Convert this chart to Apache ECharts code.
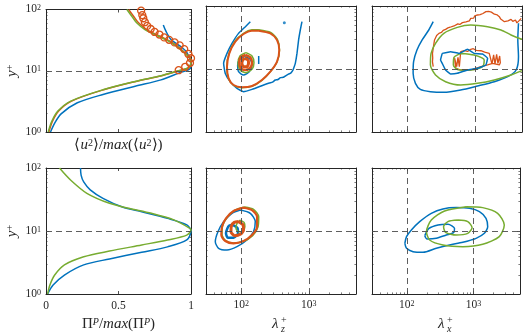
<!DOCTYPE html>
<html><head><meta charset="utf-8">
<script src="https://cdn.jsdelivr.net/npm/echarts@6/dist/echarts.min.js"></script>
<style>html,body{margin:0;padding:0;background:#fff}#c{width:523px;height:333px}</style>
</head><body><div id="c"></div>
<script>
// ---------- tick labels ----------
const yTickValues = [1, 10, 100];
const lambdaTickValues = [100, 1000];
const linTickValues = [0, 0.5, 1];
const refYPlus = 10;
const refLambda = [100, 1000];

// ---------- panel (a): <u^2>/max profiles  [value, y+] ----------
const u2Blue = [[0.031,1],[0.06,1.4],[0.104,1.98],[0.216,3.0],[0.393,4.1],[0.615,5.6],[0.793,7.1],[0.927,9.4],[0.982,10.3],[1.0,12.0],[0.995,14.8],[0.971,20.0],[0.938,24.0],[0.905,27.1],[0.86,32.6],[0.827,44.3],[0.809,56]];
const u2Green = [[0.015,1],[0.04,1.5],[0.082,2.2],[0.171,3.2],[0.393,4.9],[0.615,6.7],[0.793,8.3],[0.905,9.9],[0.97,10.9],[0.995,12.5],[1.0,14.8],[0.949,20],[0.86,29],[0.682,47],[0.627,60],[0.593,77],[0.558,100]];
const u2Orange = [[0.02,1],[0.045,1.5],[0.087,2.2],[0.176,3.2],[0.398,4.9],[0.62,6.7],[0.798,8.3],[0.91,9.9],[0.975,10.9],[1.0,12.5],[1.0,15],[0.955,20],[0.87,29],[0.695,47],[0.64,60],[0.605,77],[0.57,100]];
const u2Circles = [[0.656,95.7],[0.664,81],[0.671,72],[0.682,62],[0.698,54],[0.722,48],[0.749,43],[0.782,39],[0.815,35],[0.849,32],[0.887,29],[0.922,26],[0.953,22.6],[0.982,18.8],[1.0,16],[0.993,13.4],[0.96,11.6],[0.915,10.2]];

// ---------- panel (d): Pi^P/max profiles ----------
const piBlue = [[0.011,1],[0.049,1.39],[0.127,2.0],[0.26,2.9],[0.438,3.6],[0.66,4.6],[0.838,5.6],[0.971,7.2],[1.0,10],[0.971,12.5],[0.838,15.9],[0.66,20.2],[0.527,24],[0.393,33],[0.305,45],[0.26,60],[0.242,77],[0.238,100]];
const piGreen = [[0.011,1],[0.027,1.39],[0.06,2.0],[0.127,2.9],[0.26,3.9],[0.438,4.8],[0.66,6.0],[0.838,7.2],[0.971,8.6],[1.0,10.4],[0.993,11],[0.882,15],[0.727,19.1],[0.571,22.9],[0.438,27.5],[0.282,39.7],[0.171,64],[0.093,100]];

// ---------- panel (b): contours in (lambda_z+, y+) ----------
const bBlueOuter = [[136,56.4],[115,47],[91,36.8],[72.8,25.5],[61.4,17.7],[54.7,12.3],[57.9,8.5],[68.7,6.3],[86.3,4.93],[108,4.37],[144,4.75],[214,5.57],[260,6.0],[290,6.2],[319,6.69],[350,6.8],[380,7.3],[420,7.4],[449,7.74],[500,8.3],[540,8.6],[576,9.41],[600,10.5],[631,12.3],[668,17.7],[706,28.9],[748,41.6],[792,56.4]];
const bBlueDot = [[434,54.4]];
const bBlueInner = [[112,15.7],[136,14.2],[144,11.6],[131,9.07],[108,8.03],[91.2,9.07],[88.3,11.6],[94.4,14.2],[112,15.7]];
const bBlueTick = [[181,16.1],[181,12.0]];
const bGreenOuter = [[181,42],[272,38],[342,29.5],[368,20],[340,13],[269,9.0],[202,6.6],[144,5.3],[102,5.05],[76.9,5.5],[64.8,7.0],[61,10.9],[66,17.9],[81,27.8],[108,36.8],[144,41.8],[181,42]];
const bGreenInner = [[117,18.2],[144,16.1],[154,12.6],[144,9.88],[117,8.75],[95.5,9.64],[89.3,12.3],[95.5,16.1],[117,18.2]];
const bOrangeOuter = [[181,40.6],[269,36.8],[338,28.9],[365,20.0],[338,13.1],[269,9.07],[202,6.69],[144,5.37],[102,5.12],[76.9,5.57],[64.8,7.11],[61.4,10.9],[66.4,17.7],[81.5,27.2],[108,35.9],[144,40.6],[181,40.6]];
const bOrangeInner = [[115,16.7],[136,15.3],[144,12.6],[136,10.5],[115,9.64],[97.8,10.4],[93.4,12.6],[97.8,15.3],[115,16.7]];
const bOrangeCore = [[112,14.8],[126,13.9],[128,12.3],[121,10.9],[108,10.9],[102,12.3],[105,13.9],[112,14.8]];

// ---------- panel (c): contours in (lambda_x+, y+) ----------
const cBlueOuter = [[242,56.4],[208,41.6],[166,28.9],[139,20.0],[124,13.1],[122,8.53],[132,5.92],[156,4.75],[220,4.37],[348,4.26],[618,4.64],[1096,5.37],[1945,6.29],[3076,7.56],[4093,9.64],[4436,15.7],[4335,28.9],[4436,53.1]];
const cBlueInner = [[329,17.7],[438,18.8],[584,17.7],[778,20.5],[977,17.7],[1301,17.3],[1545,14.8],[1460,11.6],[1096,10.3],[778,9.64],[551,8.53],[438,8.33],[369,9.64],[329,12.3],[311,13.9],[329,17.7]];
const cGreenOuter = [[4980,29.6],[3443,34.7],[2443,41.6],[1545,47],[871,49.9],[551,45.8],[348,36.8],[262,25.5],[225,17.7],[220,11.6],[262,8.03],[369,6.29],[618,5.57],[1096,5.92],[1945,6.69],[3443,8.03],[4980,9.41]];
const cGreenInner = [[618,17.7],[977,16.7],[1377,13.9],[1301,10.9],[871,9.64],[584,9.64],[481,11.6],[492,15.3],[618,17.7]];
const cOrangeOuter = [[242,10.9],[236,13],[238,15],[236,17.7],[240,20],[246,24],[253,28.9],[262,31],[272,34],[294,36.8],[320,38],[340,41],[369,42.6],[400,45],[430,46],[460,49],[492,48.2],[520,50],[560,52],[600,51],[655,54.4],[700,57],[740,56],[790,60],[830,58],[871,63.7],[920,66],[960,64],[1000,70],[1050,68],[1096,72],[1150,74],[1200,73],[1260,78],[1320,76],[1380,80],[1460,81.3],[1520,78],[1600,82],[1680,77],[1760,80],[1837,78.4],[1950,74],[2050,70],[2150,72],[2307,67.7],[2420,62],[2550,58],[2742,56.4],[2900,60],[3100,58],[3300,62],[3443,61.4],[3650,57],[3800,55],[4000,60],[4200,54],[4335,54.4],[4500,58],[4700,62],[4864,63.7]];
const cOrangeInner = [[520,10.3],[502,14.8],[539,10.9],[563,15.3],[590,10.9],[618,18.8],[700,19.5],[780,19],[871,20.5],[950,21],[1050,19.8],[1230,19.5],[1400,18.5],[1637,17.7],[1734,16.7],[1795,12.0],[1900,16.7],[1990,12.0],[2105,17.1],[2203,12.3],[2333,16.1],[2388,12.6],[2307,11.6],[1837,12.3],[1545,11.6],[1230,10.9],[871,9.64],[618,9.64],[520,10.3]];

// ---------- panel (e): contours in (lambda_z+, y+) ----------
const eBlueOuter = [[96.7,21.5],[136,19.1],[161,14.1],[152,9.76],[121,7.2],[86.3,5.64],[61.4,4.99],[46.1,5.31],[41.2,6.77],[45.1,9.76],[54.7,14.1],[72.8,19.1],[96.7,21.5]];
const eBlueInner = [[74.5,12.5],[88.3,11.0],[89.3,9.18],[76.9,7.84],[63.4,7.84],[59.3,9.18],[62.1,11.0],[66.4,12.2],[74.5,12.5]];
const eGreenOuter = [[112,24.0],[152,22.1],[181,16.9],[177,11.7],[147,8.43],[108,6.86],[76.9,6.45],[57.9,7.11],[51.8,8.85],[52.8,12.0],[61.4,16.3],[79.6,21.3],[112,24.0]];
const eGreenInner = [[96.7,14.9],[110,13.7],[113,11.7],[105,10],[91.2,9.76],[83.4,11.0],[86.3,13.2],[96.7,14.9]];
const eOrangeOuter = [[108,23.5],[144,21.5],[171,16.9],[171,11.7],[144,8.64],[108,6.94],[76.9,6.37],[57.9,6.94],[50.6,8.64],[51.8,11.7],[59.3,15.9],[76.9,20.8],[108,23.5]];
const eOrangeInner = [[91.2,14.1],[106,12.5],[108,10.4],[96.7,8.85],[79.6,8.43],[70.3,9.76],[71.1,12.0],[78.7,13.7],[91.2,14.1]];

// ---------- panel (f): contours in (lambda_x+, y+) ----------
const fBlueOuter = [[93.4,6.37],[98.9,8.13],[117,10.4],[156,14.1],[233,19.1],[348,22.4],[551,23.5],[871,22.9],[1230,20.3],[1545,15.9],[1637,11.7],[1460,9.18],[1096,7.65],[693,6.61],[438,6.0],[277,5.31],[175,4.58],[124,4.70],[98.9,5.31],[93.4,6.37]];
const fBlueInner = [[186,8.43],[215,11.0],[294,12.5],[414,12.8],[520,11.0],[502,9.41],[391,8.64],[277,7.65],[201,7.46],[186,8.43]];
const fGreenOuter = [[778,24.3],[1377,23.5],[2307,19.1],[2904,12.5],[2443,8.13],[1377,6.14],[693,5.64],[348,6.0],[220,7.2],[197,9.76],[233,14.9],[369,20.8],[778,24.3]];
const fGreenInner = [[584,14.9],[822,14.1],[955,11.3],[822,9.18],[551,8.64],[382,9.52],[356,11.7],[414,14.1],[584,14.9]];

// ---------- styling ----------
const FONT = 'Liberation Serif';
const DARK = '#262626';
const BLUE = '#0072BD', ORANGE = '#D95319', GREEN = '#77AC30';

const tickRich = {
  n: {fontFamily: FONT, fontSize: 11.5, color: DARK, lineHeight: 11, padding: [3,0,0,0], verticalAlign: 'bottom'},
  s: {fontFamily: FONT, fontSize: 8, color: DARK, lineHeight: 8, verticalAlign: 'top'}
};
const nameRich = {
  m: {fontFamily: FONT, fontSize: 15, color: DARK, lineHeight: 15, padding: [4,0,0,0], verticalAlign: 'bottom'},
  i: {fontFamily: FONT, fontSize: 15, fontStyle: 'italic', color: DARK, lineHeight: 15, padding: [4,0,0,0], verticalAlign: 'bottom'},
  sp: {fontFamily: FONT, fontSize: 10, color: DARK, lineHeight: 10, verticalAlign: 'top'},
  spi: {fontFamily: FONT, fontSize: 10, fontStyle: 'italic', color: DARK, lineHeight: 10, verticalAlign: 'top'}
};

function powLabel(v) {
  const e = Math.round(Math.log10(v));
  if (Math.abs(Math.pow(10, e) - v) > 1e-6 * v) return '';
  return '{n|10}{s|' + e + '}';
}
function linLabel(v) {
  return linTickValues.indexOf(v) >= 0 ? '{n|' + v + '}' : '';
}

const grids = [
  {left: 41, top: 6, width: 150, height: 126},
  {left: 206, top: 6, width: 150, height: 126},
  {left: 372, top: 6, width: 150, height: 126},
  {left: 41, top: 168, width: 150, height: 126},
  {left: 206, top: 168, width: 150, height: 126},
  {left: 372, top: 168, width: 150, height: 126}
];

const tick = {show: true, inside: true, length: 3, lineStyle: {color: DARK, width: 0.8}};
const minor = {show: true, splitNumber: 9, length: 1.6, lineStyle: {color: DARK, width: 0.6}};
const line = {show: true, onZero: false, lineStyle: {color: DARK, width: 1}};

function xAxisFor(i, mirror) {
  const isLin = (i === 0 || i === 3);
  const base = {
    gridIndex: i,
    position: mirror ? 'top' : 'bottom',
    axisLine: line,
    axisTick: tick,
    splitLine: {show: false},
    axisLabel: {show: false}
  };
  if (isLin) {
    Object.assign(base, {type: 'value', min: 0, max: 1, interval: 0.5});
  } else {
    Object.assign(base, {type: 'log', logBase: 10, min: 30, max: 5000, minorTick: minor});
  }
  if (!mirror && i >= 3) {
    base.axisLabel = {show: true, margin: isLin ? 7 : 6, formatter: isLin ? linLabel : powLabel, rich: tickRich};
  }
  if (!mirror && i === 0) {
    base.name = '{m|⟨}{i|u}{sp|2}{m|⟩/}{i|max}{m|(⟨}{i|u}{sp|2}{m|⟩)}';
    base.nameLocation = 'middle';
    base.nameGap = 6;
    base.nameTextStyle = {rich: nameRich};
  }
  if (!mirror && i === 3) {
    base.name = '{m|Π}{spi|P}{m|/}{i|max}{m|(Π}{spi|P}{m|)}';
    base.nameLocation = 'middle';
    base.nameGap = 14;
    base.nameTextStyle = {rich: nameRich};
  }
  return base;
}
function yAxisFor(i, mirror) {
  const base = {
    gridIndex: i,
    type: 'log', logBase: 10, min: 1, max: 100,
    position: mirror ? 'right' : 'left',
    axisLine: line,
    axisTick: tick,
    minorTick: minor,
    splitLine: {show: false},
    axisLabel: {show: false}
  };
  if (!mirror && (i === 0 || i === 3)) {
    base.axisLabel = {show: true, margin: 5, formatter: powLabel, rich: tickRich};
    base.name = '{i|y}{sp|+}';
    base.nameLocation = 'middle';
    base.nameRotate = 90;
    base.nameGap = 26;
    base.nameTextStyle = {rich: nameRich};
  }
  return base;
}

const xAxes = [], yAxes = [];
for (let i = 0; i < 6; i++) { xAxes.push(xAxisFor(i, false)); yAxes.push(yAxisFor(i, false)); }
for (let i = 0; i < 6; i++) { xAxes.push(xAxisFor(i, true)); yAxes.push(yAxisFor(i, true)); }

const dash = {color: '#4d4d4d', width: 0.9, type: [6, 4]};
function refLines(panel) {
  const d = [{yAxis: refYPlus}];
  if (panel !== 0 && panel !== 3) refLambda.forEach(v => d.push({xAxis: v}));
  return {silent: true, symbol: ['none', 'none'], label: {show: false}, lineStyle: dash, emphasis: {disabled: true}, animation: false, data: d};
}

function ln(panel, data, color, opts) {
  opts = opts || {};
  const s = {
    type: 'line', xAxisIndex: panel, yAxisIndex: panel, data: data,
    showSymbol: false, symbol: 'none', smooth: opts.smooth === undefined ? 0.25 : opts.smooth,
    lineStyle: {color: color, width: opts.width || 1.5},
    itemStyle: {color: color},
    z: opts.z || 2, silent: true, animation: false
  };
  if (opts.ref) s.markLine = refLines(panel);
  return s;
}

const series = [
  // panel a
  ln(0, u2Blue, BLUE, {ref: true, smooth: 0.3}),
  ln(0, u2Orange, ORANGE, {smooth: 0.3}),
  ln(0, u2Green, GREEN, {smooth: 0.3}),
  {type: 'line', xAxisIndex: 0, yAxisIndex: 0, data: u2Circles, symbol: 'circle', symbolSize: 7,
   showSymbol: true, lineStyle: {width: 0, opacity: 0},
   itemStyle: {color: 'rgba(0,0,0,0)', borderColor: ORANGE, borderWidth: 1.3}, z: 4, silent: true, animation: false},
  // panel b
  ln(1, bBlueOuter, BLUE, {ref: true, smooth: 0.15}),
  ln(1, bBlueInner, BLUE),
  ln(1, bBlueTick, BLUE, {smooth: 0}),
  {type: 'scatter', xAxisIndex: 1, yAxisIndex: 1, data: bBlueDot, symbolSize: 3, itemStyle: {color: BLUE}, silent: true, animation: false},
  ln(1, bGreenOuter, GREEN),
  ln(1, bGreenInner, GREEN),
  ln(1, bOrangeOuter, ORANGE, {width: 2}),
  ln(1, bOrangeInner, ORANGE, {width: 2.5}),
  ln(1, bOrangeCore, ORANGE, {width: 3}),
  // panel c
  ln(2, cBlueOuter, BLUE, {ref: true}),
  ln(2, cOrangeOuter, ORANGE, {smooth: 0, width: 1.3}),
  ln(2, cOrangeInner, ORANGE, {smooth: 0, width: 1.3}),
  ln(2, cGreenOuter, GREEN),
  ln(2, cGreenInner, GREEN),
  ln(2, cBlueInner, BLUE, {smooth: 0.1}),
  // panel d
  ln(3, piBlue, BLUE, {ref: true, smooth: 0.3}),
  ln(3, piGreen, GREEN, {smooth: 0.3}),
  // panel e
  ln(4, eBlueOuter, BLUE, {ref: true}),
  ln(4, eBlueInner, BLUE, {width: 2.5}),
  ln(4, eGreenOuter, GREEN),
  ln(4, eGreenInner, GREEN),
  ln(4, eOrangeOuter, ORANGE, {width: 2.2}),
  ln(4, eOrangeInner, ORANGE, {width: 3}),
  // panel f
  ln(5, fBlueOuter, BLUE, {ref: true}),
  ln(5, fBlueInner, BLUE),
  ln(5, fGreenOuter, GREEN),
  ln(5, fGreenInner, GREEN)
];

function lambdaLabel(x, sub) {
  return {
    type: 'group', left: x, top: 315, silent: true,
    children: [
      {type: 'text', left: 0, top: 2, style: {text: 'λ', font: 'italic 15px "Liberation Serif"', fill: DARK}},
      {type: 'text', left: 9, top: 0, style: {text: '+', font: '10px "Liberation Serif"', fill: DARK}},
      {type: 'text', left: 9, top: 9, style: {text: sub, font: 'italic 10px "Liberation Serif"', fill: DARK}}
    ]
  };
}

const chart = echarts.init(document.getElementById('c'), null, {renderer: 'canvas'});
chart.setOption({
  animation: false,
  backgroundColor: '#fff',
  grid: grids,
  xAxis: xAxes,
  yAxis: yAxes,
  series: series,
  graphic: [lambdaLabel(272, 'z'), lambdaLabel(438, 'x')]
});
</script></body></html>
